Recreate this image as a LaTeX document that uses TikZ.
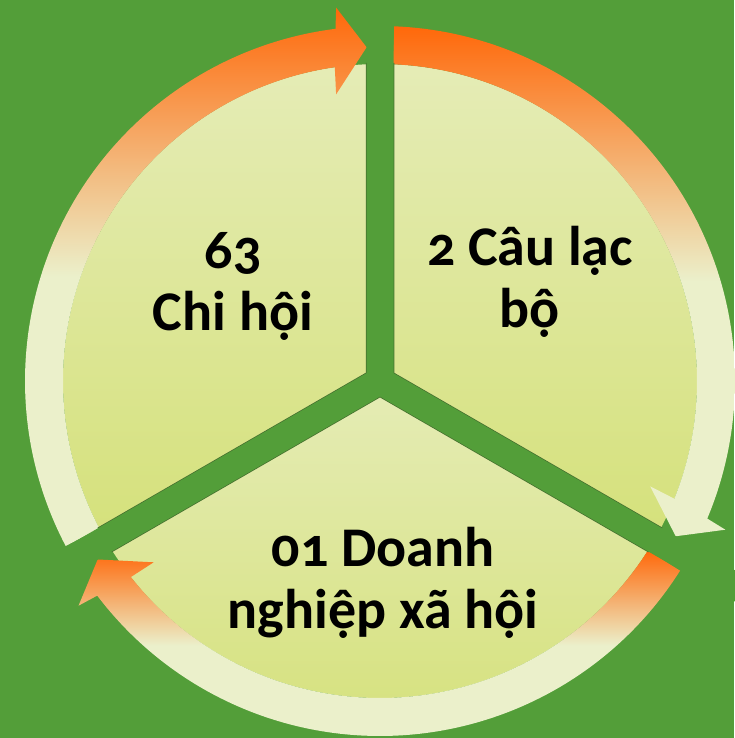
\documentclass[tikz,border=0pt]{standalone}
\usepackage{fontspec}
\setmainfont{Carlito}[Numbers=OldStyle]

\definecolor{bggreen}{HTML}{539E39}
\definecolor{gapedge}{HTML}{46702F}
\definecolor{pietop}{HTML}{E5ECB6}
\definecolor{piebot}{HTML}{D5E17B}
\definecolor{arrorange}{HTML}{FF680A}
\definecolor{arrpale}{HTML}{EBF0CB}

\tikzset{
  sector/.style={top color=pietop, bottom color=piebot},
  ringarrow/.style={top color=arrorange, bottom color=arrpale, middle color=arrpale},
  caption/.style={font=\bfseries\fontsize{56}{62}\selectfont, align=center, anchor=base, inner sep=0pt},
}

\begin{document}
\begin{tikzpicture}[x=1pt, y=1pt]
  \fill[bggreen] (-380,-357) rectangle (354,381);
  \useasboundingbox (-380,-357) rectangle (354,381);
  \coordinate (c) at (0,0);

  \shade[sector] (c) -- (90:317) arc[start angle=90, end angle=210, radius=317pt] -- cycle;
  \shade[sector] (c) -- (-30:317) arc[start angle=-30, end angle=90, radius=317pt] -- cycle;
  \shade[sector] (c) -- (210:317) arc[start angle=210, end angle=330, radius=317pt] -- cycle;

  \shade[ringarrow] (207.7:355) arc[start angle=207.7, end angle=97.2, radius=355pt]
    -- (96.7:376) -- (92.3:334) -- (98.7:290) -- (98.2:317)
    arc[start angle=98.2, end angle=207.7, radius=317pt] -- cycle;
  \shade[ringarrow] (87.7:355) arc[start angle=87.7, end angle=-22.8, radius=355pt]
    -- (-23.3:376) -- (-27.7:334) -- (-21.3:290) -- (-21.8:317)
    arc[start angle=-21.8, end angle=87.7, radius=317pt] -- cycle;
  \shade[ringarrow] (-32.3:355) arc[start angle=-32.3, end angle=-142.8, radius=355pt]
    -- (-143.3:376) -- (-147.7:334) -- (-141.3:290) -- (-141.8:317)
    arc[start angle=-141.8, end angle=-32.3, radius=317pt] -- cycle;

  \draw[line width=28.5pt, gapedge] (c) -- (90:318) (c) -- (-30:318) (c) -- (210:318);
  \draw[line width=27pt, bggreen] (c) -- (90:420) (c) -- (-30:420) (c) -- (210:420);

  \node[caption] (chihoi) at (-147,50) {63\\Chi hội};
  \node[caption] (clb) at (150,53) {2 Câu lạc\\bộ};
  \node[caption] (dn) at (3,-247) {01 Doanh\\nghiệp xã hội};
\end{tikzpicture}
\end{document}
